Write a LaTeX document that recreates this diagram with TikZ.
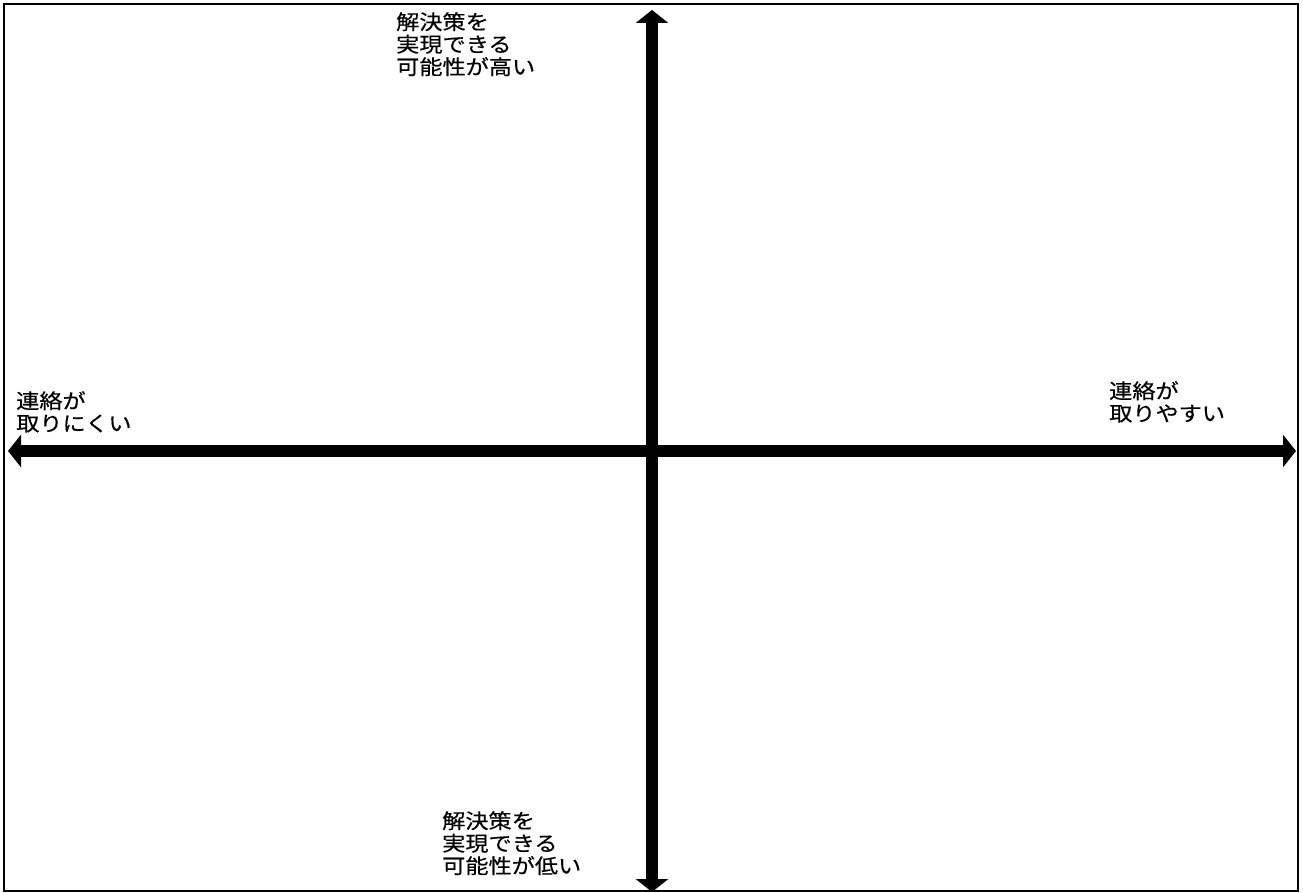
\documentclass[tikz,border=0pt]{standalone}
\usepackage{fontspec}
\setmainfont{Noto Sans CJK JP}[FakeStretch=1.13, FakeBold=0.4]
\usetikzlibrary{arrows.meta}
\tikzset{
  axislabel/.style={anchor=north west, inner sep=0pt, align=left,
    font=\fontsize{20.5}{22.5}\selectfont},
  axisarrow/.style={line width=12pt, {Triangle[length=13pt,width=32pt]}-{Triangle[length=13pt,width=32pt]}}
}
\begin{document}
\begin{tikzpicture}[x=1pt, y=-1pt]
\useasboundingbox (0,0) rectangle (1303,893);
\draw[line width=1.5pt] (4,4) rectangle (1298,891);
\coordinate (top) at (652,10);
\coordinate (bottom) at (652,892);
\coordinate (left) at (8,451);
\coordinate (right) at (1296,451);
\draw[axisarrow] (left) -- (right);
\draw[axisarrow] (bottom) -- (top);
\node[axislabel] (high) at (396,12) {解決策を\\実現できる\\可能性が高い};
\node[axislabel] (low) at (442,811) {解決策を\\実現できる\\可能性が低い};
\node[axislabel] (hard) at (16,391) {連絡が\\取りにくい};
\node[axislabel] (easy) at (1109,381) {連絡が\\取りやすい};
\end{tikzpicture}
\end{document}
